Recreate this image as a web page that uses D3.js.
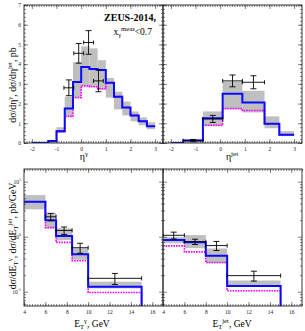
<!DOCTYPE html>
<html>
<head>
<meta charset="utf-8">
<script src="https://cdn.jsdelivr.net/npm/d3@7"></script>
<style>
body { margin: 0; background: #fff; }
text { font-family: "Liberation Serif", "DejaVu Serif", serif; }
</style>
</head>
<body>
<svg id="chart" width="305" height="331"></svg>
<script>
// eta^gamma: theory histogram (bins of 1/3), data bins of 0.4
var etaGamEdges = [-2, -1.667, -1.333, -1, -0.667, -0.333, 0, 0.333, 0.667, 1, 1.333, 1.667, 2, 2.333, 2.667, 3];
var etaGamNlo = [0, 0, 0.1, 0.6, 1.75, 3.1, 3.85, 3.75, 3.7, 3.05, 2.35, 1.8, 1.4, 1.1, 0.85];
var etaGamAlt = [0, 0, 0.1, 0.6, 1.35, 2.3, 2.9, 2.85, 2.75, 3.05, 2.35, 1.8, 1.4, 1.1, 0.85];
var etaGamBandLo = [0, 0, 0.03, 0.5, 1.35, 2.3, 2.9, 2.85, 2.7, 2.3, 1.7, 1.4, 1.1, 0.9, 0.7];
var etaGamBandHi = [0, 0, 0.15, 0.8, 2.35, 4.1, 4.9, 4.8, 4.2, 3.3, 2.6, 2.1, 1.6, 1.3, 1.05];
var etaGamDataLo = [-0.7, -0.3, 0.1, 0.5];
var etaGamDataHi = [-0.3, 0.1, 0.5, 0.9];
var etaGamData = [2.8, 4.55, 5.1, 3.15];
var etaGamErr = [0.4, 0.5, 0.6, 0.55];

// eta^jet
var etaJetEdges = [-2, -1.5, -0.7, 0.1, 0.9, 1.8, 2.4, 3.0];
var etaJetNlo = [0, 0.13, 1.25, 2.5, 2.05, 0.98, 0.42];
var etaJetAlt = [0, 0.13, 0.9, 1.75, 1.65, 0.98, 0.42];
var etaJetBandLo = [0, 0.06, 0.85, 1.7, 1.55, 0.75, 0.35];
var etaJetBandHi = [0, 0.18, 1.6, 3.1, 2.65, 1.35, 0.6];
var etaJetDataLo = [-1.5, -0.7, 0.1, 0.9];
var etaJetDataHi = [-0.7, 0.1, 0.9, 1.8];
var etaJetData = [0.12, 1.22, 3.15, 3.08];
var etaJetErr = [0.06, 0.18, 0.3, 0.33];

// E_T^gamma
var etGamEdges = [4, 6, 7, 8.5, 10, 15];
var etGamNlo = [4.33, 2.0, 1.03, 0.48, 0.123];
var etGamAlt = [4.33, 1.46, 0.79, 0.366, 0.097];
var etGamBandLo = [3.14, 1.42, 0.87, 0.38, 0.115];
var etGamBandHi = [5.7, 2.73, 1.42, 0.61, 0.152];
var etGamDataLo = [6, 7, 8.5, 10];
var etGamDataHi = [7, 8.5, 10, 15];
var etGamData = [2.3, 1.3, 0.63, 0.175];
var etGamErr = [0.35, 0.2, 0.13, 0.04];

// E_T^jet
var etJetEdges = [4, 6, 8, 10, 15];
var etJetNlo = [0.87, 0.79, 0.45, 0.127];
var etJetAlt = [0.68, 0.53, 0.34, 0.104];
var etJetBandLo = [0.76, 0.62, 0.33, 0.125];
var etJetBandHi = [0.98, 1.07, 0.61, 0.16];
var etJetDataLo = [4, 6, 8, 10];
var etJetDataHi = [6, 8, 10, 15];
var etJetData = [1.06, 0.81, 0.69, 0.196];
var etJetErr = [0.15, 0.09, 0.13, 0.04];

var etaTicks = [-2, -1, 0, 1, 2, 3];
var linYTicks = [0, 1, 2, 3, 4, 5, 6, 7];
var etTicks = [4, 6, 8, 10, 12, 14, 16];
var logYTicks = [0.1, 1, 10];

var svg = d3.select('#chart');
var clipId = 0;

function drawPanel(p) {
    var x = d3.scaleLinear().domain(p.xDomain).range([p.left, p.right]);
    var y = (p.log ? d3.scaleLog() : d3.scaleLinear()).domain(p.yDomain).range([p.bottom, p.top]);
    var g = svg.append('g');

    clipId++;
    svg.append('clipPath').attr('id', 'clip' + clipId)
        .append('rect').attr('x', p.left).attr('y', p.top)
        .attr('width', p.right - p.left).attr('height', p.bottom - p.top);
    var inner = g.append('g').attr('clip-path', 'url(#clip' + clipId + ')');

    // uncertainty band
    var bins = p.bandLo.map(function(lo, i) {
        return {x0: p.edges[i], x1: p.edges[i + 1], lo: lo, hi: p.bandHi[i]};
    }).filter(function(d) { return d.hi > d.lo; });
    inner.selectAll('.band').data(bins).enter().append('rect')
        .attr('x', function(d) { return x(d.x0); })
        .attr('width', function(d) { return x(d.x1) - x(d.x0); })
        .attr('y', function(d) { return y(d.hi); })
        .attr('height', function(d) { return y(d.lo) - y(d.hi); })
        .attr('fill', '#bfbfbf');

    function stepPoints(vals) {
        var pts = p.edges.map(function(e, i) { return [e, vals[Math.min(i, vals.length - 1)]]; });
        if (p.log) pts.push([p.edges[p.edges.length - 1], p.yDomain[0]]);
        return pts;
    }
    var line = d3.line().x(function(d) { return x(d[0]); }).y(function(d) { return y(d[1]); })
        .curve(d3.curveStepAfter);

    inner.append('path').attr('d', line(stepPoints(p.alt)))
        .attr('fill', 'none').attr('stroke', '#ff00ff').attr('stroke-width', 1.6)
        .attr('stroke-dasharray', '1.6,1');
    inner.append('path').attr('d', line(stepPoints(p.nlo)))
        .attr('fill', 'none').attr('stroke', '#0a0aff').attr('stroke-width', 2);

    // data points
    var pts = p.data.map(function(v, i) {
        return {lo: p.dataLo[i], hi: p.dataHi[i], v: v, e: p.err[i]};
    });
    var dp = inner.selectAll('.pt').data(pts).enter().append('g')
        .attr('stroke', '#000').attr('stroke-width', 0.9).attr('fill', 'none');
    dp.append('line')
        .attr('x1', function(d) { return x(d.lo); }).attr('x2', function(d) { return x(d.hi); })
        .attr('y1', function(d) { return y(d.v); }).attr('y2', function(d) { return y(d.v); });
    dp.append('line')
        .attr('x1', function(d) { return x((d.lo + d.hi) / 2); }).attr('x2', function(d) { return x((d.lo + d.hi) / 2); })
        .attr('y1', function(d) { return y(d.v - d.e); }).attr('y2', function(d) { return y(d.v + d.e); });
    [-1, 1].forEach(function(s) {
        dp.append('line')
            .attr('x1', function(d) { return x((d.lo + d.hi) / 2) - 3; }).attr('x2', function(d) { return x((d.lo + d.hi) / 2) + 3; })
            .attr('y1', function(d) { return y(d.v + s * d.e); }).attr('y2', function(d) { return y(d.v + s * d.e); });
    });
    ['lo', 'hi'].forEach(function(k) {
        dp.append('line')
            .attr('x1', function(d) { return x(d[k]); }).attr('x2', function(d) { return x(d[k]); })
            .attr('y1', function(d) { return y(d.v) - 2; }).attr('y2', function(d) { return y(d.v) + 2; });
    });

    // axes: inward ticks on all four sides
    function axis(gen, scale, vals, size, labels, tr) {
        var a = gen(scale).tickValues(vals).tickSize(-size).tickPadding(3);
        a.tickFormat(labels ? p.fmt : function() { return ''; });
        var ag = g.append('g').attr('transform', tr).call(a);
        ag.select('.domain').remove();
        ag.selectAll('line').attr('stroke', '#333').attr('stroke-width', 0.6);
        ag.selectAll('text').attr('font-size', 5.5).attr('fill', '#222')
            .attr('font-family', '"Liberation Serif", serif');
        return ag;
    }
    var xMinor = d3.range(p.xDomain[0], p.xDomain[1] + 1e-9, p.xMinor).filter(function(v) {
        return v >= p.xDomain[0] && v <= p.xDomain[1];
    });
    var xMajor = p.xTicks.filter(function(v) { return v >= p.xDomain[0] && v <= p.xDomain[1]; });
    var yMajor = p.yTicks;
    var yMinor;
    if (p.log) {
        yMinor = [];
        [0.01, 0.1, 1, 10].forEach(function(dec) {
            for (var k = 2; k <= 9; k++) {
                var v = dec * k;
                if (v >= p.yDomain[0] && v <= p.yDomain[1]) yMinor.push(v);
            }
        });
    } else {
        yMinor = d3.range(p.yDomain[0], p.yDomain[1] + 1e-9, 0.2);
    }

    var bx = axis(d3.axisBottom, x, xMajor, 4, true, 'translate(0,' + p.bottom + ')');
    axis(d3.axisBottom, x, xMinor, 2, false, 'translate(0,' + p.bottom + ')');
    axis(d3.axisTop, x, xMajor, 4, false, 'translate(0,' + p.top + ')');
    axis(d3.axisTop, x, xMinor, 2, false, 'translate(0,' + p.top + ')');
    var ly = axis(d3.axisLeft, y, yMajor, 4, p.yLabels, 'translate(' + p.left + ',0)');
    axis(d3.axisLeft, y, yMinor, 2, false, 'translate(' + p.left + ',0)');
    axis(d3.axisRight, y, yMajor, 4, false, 'translate(' + p.right + ',0)');
    axis(d3.axisRight, y, yMinor, 2, false, 'translate(' + p.right + ',0)');
    bx.selectAll('text').attr('dy', '0.9em');

    if (p.log && p.yLabels) {
        ly.selectAll('.tick text').each(function(d) {
            var t = d3.select(this);
            t.text('10');
            t.append('tspan').attr('dy', -2.5).attr('font-size', 4).text(Math.round(Math.log10(d)));
        });
    }

    g.append('rect').attr('x', p.left).attr('y', p.top)
        .attr('width', p.right - p.left).attr('height', p.bottom - p.top)
        .attr('fill', 'none').attr('stroke', '#222').attr('stroke-width', 0.9);
}

var fmtNum = function(d) { return String(d); };

drawPanel({
    left: 24, right: 163, top: 5, bottom: 143,
    xDomain: [-2.32, 3.32], yDomain: [0, 7], log: false,
    xTicks: etaTicks, yTicks: linYTicks, xMinor: 0.1, fmt: fmtNum, yLabels: true,
    edges: etaGamEdges, nlo: etaGamNlo, alt: etaGamAlt, bandLo: etaGamBandLo, bandHi: etaGamBandHi,
    dataLo: etaGamDataLo, dataHi: etaGamDataHi, data: etaGamData, err: etaGamErr
});
drawPanel({
    left: 163, right: 302, top: 5, bottom: 143,
    xDomain: [-2.32, 3.32], yDomain: [0, 7], log: false,
    xTicks: etaTicks, yTicks: linYTicks, xMinor: 0.1, fmt: fmtNum, yLabels: false,
    edges: etaJetEdges, nlo: etaJetNlo, alt: etaJetAlt, bandLo: etaJetBandLo, bandHi: etaJetBandHi,
    dataLo: etaJetDataLo, dataHi: etaJetDataHi, data: etaJetData, err: etaJetErr
});
drawPanel({
    left: 24, right: 163, top: 169, bottom: 306,
    xDomain: [4, 17], yDomain: [0.055, 17], log: true,
    xTicks: etTicks, yTicks: logYTicks, xMinor: 0.25, fmt: fmtNum, yLabels: true,
    edges: etGamEdges, nlo: etGamNlo, alt: etGamAlt, bandLo: etGamBandLo, bandHi: etGamBandHi,
    dataLo: etGamDataLo, dataHi: etGamDataHi, data: etGamData, err: etGamErr
});
drawPanel({
    left: 163, right: 302, top: 169, bottom: 306,
    xDomain: [4, 17], yDomain: [0.055, 17], log: true,
    xTicks: etTicks, yTicks: logYTicks, xMinor: 0.25, fmt: fmtNum, yLabels: false,
    edges: etJetEdges, nlo: etJetNlo, alt: etJetAlt, bandLo: etJetBandLo, bandHi: etJetBandHi,
    dataLo: etJetDataLo, dataHi: etJetDataHi, data: etJetData, err: etJetErr
});

// titles and labels
function rich(t, parts, size) {
    parts.forEach(function(pt) {
        var s = t.append('tspan').text(pt[0]);
        if (pt[1] === 'sup') s.attr('font-size', size * 0.7).attr('dy', -size * 0.38);
        if (pt[1] === 'sub') s.attr('font-size', size * 0.7).attr('dy', size * 0.25);
        if (pt[1] === 'supAfterSub') s.attr('font-size', size * 0.7).attr('dy', -size * 0.63);
        if (pt[1] === 'back') s.attr('dy', size * 0.38);
    });
}

svg.append('text').attr('x', 156).attr('y', 21).attr('text-anchor', 'end')
    .attr('font-size', 10).attr('font-weight', 'bold').text('ZEUS-2014,');
var sel = svg.append('text').attr('x', 152).attr('y', 35).attr('text-anchor', 'end').attr('font-size', 9.5);
rich(sel, [['x'], ['γ', 'sub'], ['meas', 'supAfterSub'], ['<0.7', 'back']], 9.5);

var xl1 = svg.append('text').attr('x', 84).attr('y', 160).attr('text-anchor', 'middle').attr('font-size', 10);
rich(xl1, [['η'], ['γ', 'sup']], 10);
var xl2 = svg.append('text').attr('x', 232).attr('y', 160).attr('text-anchor', 'middle').attr('font-size', 10);
rich(xl2, [['η'], ['jet', 'sup']], 10);
var xl3 = svg.append('text').attr('x', 92).attr('y', 327).attr('text-anchor', 'middle').attr('font-size', 9.5);
rich(xl3, [['E'], ['T', 'sub'], ['γ', 'supAfterSub'], [', GeV', 'back']], 9.5);
var xl4 = svg.append('text').attr('x', 232).attr('y', 327).attr('text-anchor', 'middle').attr('font-size', 9.5);
rich(xl4, [['E'], ['T', 'sub'], ['jet', 'supAfterSub'], [', GeV', 'back']], 9.5);

var yl1 = svg.append('text').attr('transform', 'translate(16,85) rotate(-90)')
    .attr('text-anchor', 'middle').attr('font-size', 9.8);
rich(yl1, [['dσ/dη'], ['γ', 'sup'], [', dσ/dη', 'back'], ['jet', 'sup'], [', pb', 'back']], 9.8);
var yl2 = svg.append('text').attr('transform', 'translate(16,236) rotate(-90)')
    .attr('text-anchor', 'middle').attr('font-size', 9.8);
rich(yl2, [['dσ/dE'], ['T', 'sub'], ['γ', 'supAfterSub'], [', dσ/dE', 'back'], ['T', 'sub'], ['jet', 'supAfterSub'], [', pb/GeV', 'back']], 9.8);
</script>
</body>
</html>
